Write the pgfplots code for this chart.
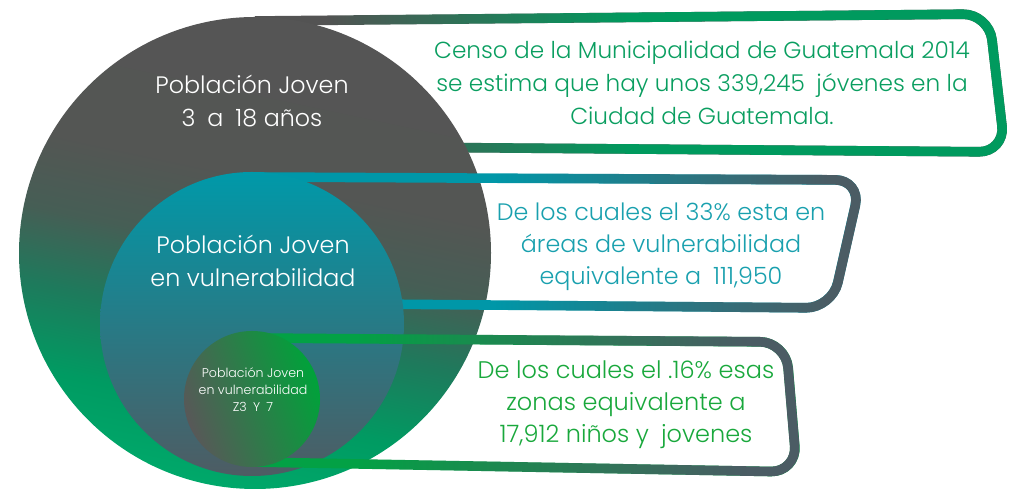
\documentclass[border=0pt]{standalone}
\usepackage{pgfplots}
\pgfplotsset{compat=1.18}
\usetikzlibrary{fadings}
\usepackage{fontspec}
\setmainfont{Poppins Light}

\definecolor{midTop}{HTML}{0099A9}
\definecolor{midMid}{HTML}{2E8590}
\definecolor{midBot}{HTML}{4E5C63}
\definecolor{smlL}{HTML}{585858}
\definecolor{smlR}{HTML}{00A23A}
\definecolor{bandGray}{HTML}{535353}
\definecolor{bandGreen}{HTML}{009A5E}
\definecolor{bandTeal}{HTML}{0097A8}
\definecolor{bandSlate}{HTML}{4B5C64}
\definecolor{bandGreenB}{HTML}{03A145}
\definecolor{txtA}{HTML}{0A9E60}
\definecolor{txtB}{HTML}{19A0AE}
\definecolor{txtC}{HTML}{19A83C}

% big circle: green at the bottom, grey over the upper part
\pgfdeclareverticalshading{bigsh}{100bp}{color(0bp)=(rgb,255:red,0;green,168;blue,106); color(25bp)=(rgb,255:red,0;green,168;blue,106);
  color(33bp)=(rgb,255:red,0;green,155;blue,98); color(42bp)=(rgb,255:red,30;green,122;blue,92);
  color(50bp)=(rgb,255:red,70;green,94;blue,85); color(58bp)=(rgb,255:red,84;green,86;blue,84); color(75bp)=(rgb,255:red,85;green,85;blue,85); color(100bp)=(rgb,255:red,85;green,85;blue,85)}

% fadings: transparent on the left, opaque on the right
\pgfdeclarehorizontalshading{shA}{100bp}{color(0bp)=(black); color(30bp)=(black); color(50bp)=(white); color(100bp)=(white)}
\pgfdeclarefading{fadeA}{\pgfuseshading{shA}}
\pgfdeclarehorizontalshading{shB}{100bp}{color(0bp)=(black); color(45bp)=(black); color(72bp)=(white); color(100bp)=(white)}
\pgfdeclarefading{fadeB}{\pgfuseshading{shB}}
\pgfdeclarehorizontalshading{shC}{100bp}{color(0bp)=(black); color(35bp)=(black); color(70bp)=(white); color(100bp)=(white)}
\pgfdeclarefading{fadeC}{\pgfuseshading{shC}}

\pgfplotsset{
  band/.style={no marks, line width=4.8pt, rounded corners=13pt, line join=round},
  disc/.style={scatter, only marks, mark=*, mark size=0pt, mark options={draw=none, fill=none},
    scatter/@pre marker code/.code={}},
}

\begin{document}
\begin{tikzpicture}
\begin{axis}[width=509pt, height=245pt, scale only axis,
  xmin=0, xmax=1018, ymin=0, ymax=490, y dir=reverse,
  hide axis, clip=false, clip marker paths=true]
\path (rel axis cs:0,0) rectangle (rel axis cs:1,1);

% callout 1
\addplot[band, draw=bandGray] coordinates {(255,21) (989,14) (1005,152) (255,146)};
\addplot[band, draw=bandGreen, path fading=fadeA] coordinates {(255,21) (989,14) (1005,152) (255,146)};
% big circle
\addplot[disc, scatter/@post marker code/.code={\shade[draw=none, shading=bigsh, shading angle=-12] (0,0) circle[radius=118pt];}]
  coordinates {(255,253)};

% callout 2
\addplot[band, draw=bandTeal] coordinates {(252,177) (861,180) (832,308) (252,303)};
\addplot[band, draw=bandSlate, path fading=fadeB] coordinates {(252,177) (861,180) (832,308) (252,303)};
% middle circle
\addplot[disc, scatter/@post marker code/.code={\shade[draw=none, top color=midTop, middle color=midMid, bottom color=midBot] (0,0) circle[radius=76pt];}]
  coordinates {(252,324)};

% callout 3
\addplot[band, draw=bandGreenB] coordinates {(252,338) (786,342) (797,472) (252,462)};
\addplot[band, draw=bandSlate, path fading=fadeC] coordinates {(252,338) (786,342) (797,472) (252,462)};
% small circle
\addplot[disc, scatter/@post marker code/.code={\shade[draw=none, left color=smlL, right color=smlR, shading angle=110] (0,0) circle[radius=34pt];}]
  coordinates {(252,399)};

% circle labels
\node[white, align=center, font=\fontsize{11.9}{16.5}\selectfont] at (axis cs:252,101) {Población Joven\\3\enspace a\enspace 18 años};
\node[white, align=center, font=\fontsize{11.9}{16.5}\selectfont] at (axis cs:253,261) {Población Joven\\en vulnerabilidad};
\node[white, align=center, font=\fontsize{6.3}{8.5}\selectfont] at (axis cs:253,390) {Población Joven\\en vulnerabilidad\\Z3\enspace Y\enspace 7};

% callout texts
\node[txtA, align=center, font=\fontsize{11.6}{16.5}\selectfont] at (axis cs:702,83) {Censo de la Municipalidad de Guatemala 2014\\se estima que hay unos 339,245\enspace jóvenes en la\\Ciudad de Guatemala.};
\node[txtB, align=center, font=\fontsize{11.9}{16}\selectfont] at (axis cs:661,247) {De los cuales el 33\% esta en\\áreas de vulnerabilidad\\equivalente a\enspace 111,950};
\node[txtC, align=center, font=\fontsize{12}{16}\selectfont] at (axis cs:626,405) {De los cuales el .16\% esas\\zonas equivalente a\\17,912 niños y\enspace jovenes};
\end{axis}
\end{tikzpicture}
\end{document}
